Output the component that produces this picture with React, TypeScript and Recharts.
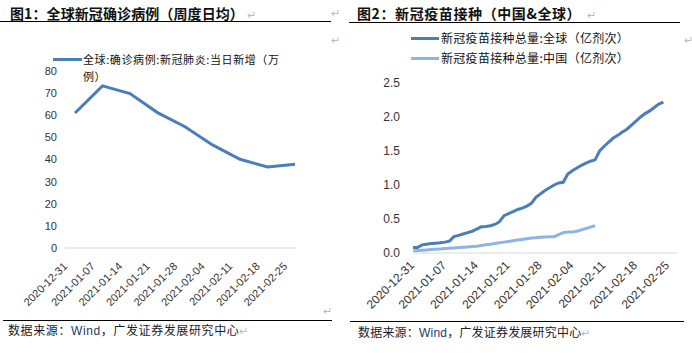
import React from "react";
import { LineChart, Line, XAxis, YAxis, CartesianGrid } from "recharts";

// 图1: weekly average of daily new confirmed cases (万例)
const weeks = [
  "2020-12-31", "2021-01-07", "2021-01-14", "2021-01-21", "2021-01-28",
  "2021-02-04", "2021-02-11", "2021-02-18", "2021-02-25",
];
const newCases = [61, 73.3, 69.8, 61.2, 54.8, 46.6, 40.1, 36.6, 37.8];
const casesTicks = [0, 10, 20, 30, 40, 50, 60, 70, 80];

// 图2: cumulative vaccinations (亿剂次), daily from 2020-12-31
const days: string[] = [];
for (let i = 0; i < 59; i++) {
  const d = new Date(Date.UTC(2020, 11, 31 + i));
  days.push(d.toISOString().slice(0, 10));
}
const globalDoses = [
  0.08, 0.08, 0.12, 0.13, 0.14, 0.145, 0.15, 0.16, 0.175, 0.24,
  0.26, 0.28, 0.3, 0.32, 0.35, 0.385, 0.39, 0.4, 0.42, 0.46,
  0.55, 0.58, 0.61, 0.64, 0.66, 0.69, 0.73, 0.82, 0.87, 0.92,
  0.96, 1.0, 1.03, 1.04, 1.16, 1.21, 1.25, 1.29, 1.32, 1.35,
  1.37, 1.5, 1.57, 1.63, 1.69, 1.73, 1.78, 1.82, 1.88, 1.94,
  2.0, 2.05, 2.09, 2.14, 2.19, 2.22,
];
const chinaDoses = [
  0.03, 0.035, 0.04, 0.045, 0.05, 0.055, 0.06, 0.065, 0.07, 0.075,
  0.08, 0.085, 0.09, 0.095, 0.1, 0.11, 0.12, 0.13, 0.14, 0.15,
  0.16, 0.17, 0.18, 0.19, 0.2, 0.21, 0.22, 0.225, 0.23, 0.235,
  0.24, 0.24, 0.27, 0.3, 0.31, 0.31, 0.32, 0.34, 0.36, 0.38,
  0.4,
];
const doseTicks = [0, 0.5, 1, 1.5, 2, 2.5];

const casesData = weeks.map((w, i) => ({ date: w, cases: newCases[i] }));
const dosesData = days.map((d, i) => ({
  date: d,
  global: globalDoses[i],
  china: chinaDoses[i],
}));

const DARK = "#4A7EBB";
const LIGHT = "#8DB4E2";
const CJK = '"Noto Sans CJK SC", "Noto Sans", sans-serif';
const LATIN = '"Liberation Sans", Arial, sans-serif';

function DateTick(props: any) {
  const { x, y, payload, dx, dy, size } = props;
  return (
    <g transform={`translate(${x + dx},${y + dy})`}>
      <text
        textAnchor="end"
        transform="rotate(-45)"
        fontSize={size}
        fontFamily={LATIN}
        fill="#333"
      >
        {payload.value}
      </text>
    </g>
  );
}

const mark = (left: number, top: number) => (
  <div style={{ position: "absolute", left, top, fontSize: 11, color: "#bbb", fontFamily: CJK }}>
    ↵
  </div>
);

export default function App() {
  return (
    <div
      style={{
        position: "absolute",
        left: 0,
        top: 0,
        width: 692,
        height: 353,
        background: "#fff",
        fontFamily: CJK,
        overflow: "hidden",
      }}
    >
      {/* titles */}
      <div style={{ position: "absolute", left: 10, top: 3, fontSize: 14, letterSpacing: 0.1, fontWeight: 700, color: "#111" }}>
        图1：全球新冠确诊病例（周度日均）
      </div>
      <div style={{ position: "absolute", left: 0, top: 21, width: 331, height: 1, background: "#000" }} />
      <div style={{ position: "absolute", left: 357, top: 3, fontSize: 14, letterSpacing: 0.6, fontWeight: 700, color: "#111" }}>
        图2：新冠疫苗接种（中国&amp;全球）
      </div>
      <div style={{ position: "absolute", left: 349, top: 22, width: 331, height: 1, background: "#000" }} />
      {mark(247, 6)}
      {mark(587, 6)}
      {mark(331, 4)}
      {mark(331, 31)}
      {mark(684, 31)}
      {mark(323, 302)}

      {/* left chart */}
      <div style={{ position: "absolute", left: 0, top: 0 }}>
        <LineChart width={346} height={320} data={casesData} margin={{ top: 71, right: 51, left: 10, bottom: 12 }}>
          <CartesianGrid vertical={false} horizontal={false} />
          <XAxis
            dataKey="date"
            height={60}
            padding={{ left: 10, right: 0 }}
            tickLine={false}
            axisLine={{ stroke: "#D9D9D9" }}
            interval={0}
            tick={<DateTick dx={-7} dy={11} size={11} />}
          />
          <YAxis
            width={55}
            domain={[0, 80]}
            ticks={casesTicks}
            tickLine={false}
            axisLine={false}
            tickMargin={2}
            tick={{ fontSize: 11, fill: "#333", fontFamily: LATIN }}
          />
          <Line dataKey="cases" stroke={DARK} strokeWidth={3} dot={false} isAnimationActive={false} />
        </LineChart>
      </div>
      <div style={{ position: "absolute", left: 53, top: 58, width: 29, height: 3, background: DARK }} />
      <div style={{ position: "absolute", left: 83, top: 51, fontSize: 11, letterSpacing: 0.6, lineHeight: "17px", color: "#111" }}>
        全球:确诊病例:新冠肺炎:当日新增（万
        <br />
        例）
      </div>

      {/* right chart */}
      <div style={{ position: "absolute", left: 346, top: 0 }}>
        <LineChart width={346} height={320} data={dosesData} margin={{ top: 83, right: 15, left: 10, bottom: 12 }}>
          <XAxis
            dataKey="date"
            height={55}
            tickLine={false}
            axisLine={{ stroke: "#D9D9D9" }}
            interval={6}
            tick={<DateTick dx={2} dy={5} size={12} />}
          />
          <YAxis
            width={57}
            domain={[0, 2.5]}
            ticks={doseTicks}
            tickLine={false}
            axisLine={false}
            tickMargin={7}
            tickFormatter={(v: number) => v.toFixed(1)}
            tick={{ fontSize: 12, fill: "#333", fontFamily: LATIN }}
          />
          <Line dataKey="global" stroke={DARK} strokeWidth={3} dot={false} isAnimationActive={false} />
          <Line dataKey="china" stroke={LIGHT} strokeWidth={3} dot={false} isAnimationActive={false} />
        </LineChart>
      </div>
      <div style={{ position: "absolute", left: 411, top: 37, width: 28, height: 3, background: DARK }} />
      <div style={{ position: "absolute", left: 441, top: 29, fontSize: 12, letterSpacing: 0.3, lineHeight: "18px", color: "#111" }}>
        新冠疫苗接种总量:全球（亿剂次）
      </div>
      <div style={{ position: "absolute", left: 411, top: 57, width: 28, height: 3, background: LIGHT }} />
      <div style={{ position: "absolute", left: 441, top: 49, fontSize: 12, letterSpacing: 0.3, lineHeight: "18px", color: "#111" }}>
        新冠疫苗接种总量:中国（亿剂次）
      </div>

      {/* sources */}
      <div style={{ position: "absolute", left: 3, top: 320, width: 329, height: 1, background: "#000" }} />
      <div style={{ position: "absolute", left: 8, top: 321, fontSize: 12, letterSpacing: 0.6, color: "#1a1a2e" }}>
        数据来源：<span style={{ fontFamily: LATIN, color: "#1F3864" }}>Wind</span>，广发证券发展研究中心
        <span style={{ color: "#bbb", fontSize: 11 }}>↵</span>
      </div>
      <div style={{ position: "absolute", left: 350, top: 321, width: 334, height: 1, background: "#000" }} />
      <div style={{ position: "absolute", left: 358, top: 323, fontSize: 12, letterSpacing: 0.2, color: "#1a1a2e" }}>
        数据来源：<span style={{ fontFamily: LATIN, color: "#1F3864" }}>Wind</span>，广发证券发展研究中心
        <span style={{ color: "#bbb", fontSize: 11 }}>↵</span>
      </div>
    </div>
  );
}
